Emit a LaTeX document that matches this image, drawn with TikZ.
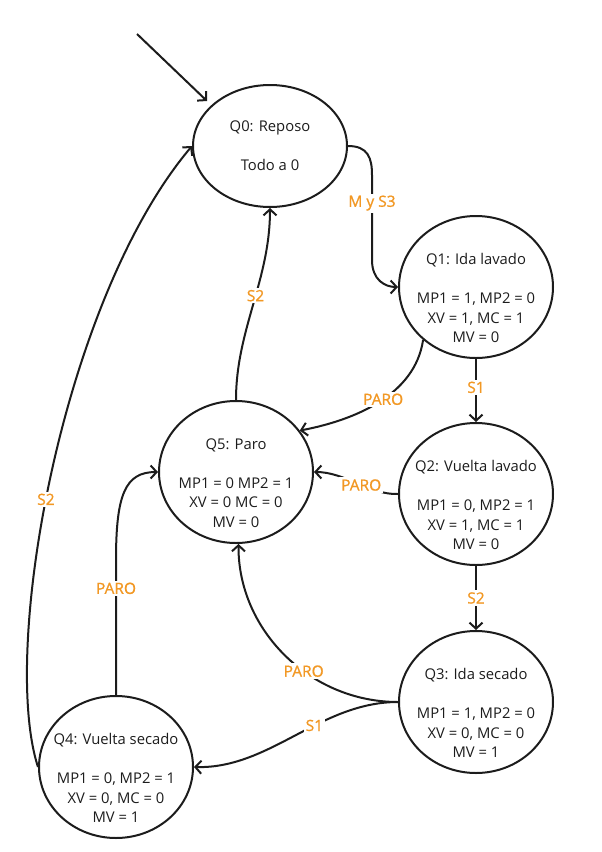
\documentclass[tikz,border=0pt]{standalone}
\usepackage{fontspec}
\setmainfont{Open Sans}
\newfontfamily\labelfont[FakeBold=1]{Open Sans}
\usetikzlibrary{arrows.meta,shapes.geometric}
\definecolor{lblorange}{RGB}{242,152,36}
\definecolor{ink}{RGB}{28,28,28}

\begin{document}
\begin{tikzpicture}[x=1pt,y=-1pt,
  state/.style={draw=ink, line width=2pt, ellipse, minimum width=154pt,
                minimum height=142pt, inner sep=0pt},
  txt/.style={align=center, font=\fontsize{14.8}{19.7}\selectfont, text=ink, inner sep=0pt},
  trans/.style={draw=ink, line width=2pt, -{Straight Barb[length=6pt,width=13pt]}},
  lbl/.style={fill=white, text=lblorange, font=\labelfont\fontsize{15.5}{17}\selectfont, inner sep=2pt},
]
\useasboundingbox (0,0) rectangle (602,852);

% states
\node[state, minimum height=122pt] (q0) at (270,146) {};
\node[state] (q1) at (476,287) {};
\node[state] (q2) at (476,494) {};
\node[state] (q3) at (476,702) {};
\node[state] (q4) at (116,767) {};
\node[state] (q5) at (236,472) {};

% state contents
\node[txt] (q0txt) at (q0.center) {Q0: Reposo\\[19.5pt]Todo a 0};
\node[txt] (q1txt) at ([yshift=-11pt]q1.center)
  {Q1: Ida lavado\\[19.5pt]MP1 = 1, MP2 = 0\\XV = 1, MC = 1\\MV = 0};
\node[txt] (q2txt) at ([yshift=-11pt]q2.center)
  {Q2: Vuelta lavado\\[19.5pt]MP1 = 0, MP2 = 1\\XV = 1, MC = 1\\MV = 0};
\node[txt] (q3txt) at ([yshift=-11pt]q3.center)
  {Q3: Ida secado\\[19.5pt]MP1 = 1, MP2 = 0\\XV = 0, MC = 0\\MV = 1};
\node[txt] (q4txt) at ([yshift=-11pt]q4.center)
  {Q4: Vuelta secado\\[19.5pt]MP1 = 0, MP2 = 1\\XV = 0, MC = 0\\MV = 1};
\node[txt] (q5txt) at ([yshift=-11pt]q5.center)
  {Q5: Paro\\[19.5pt]MP1 = 0 MP2 = 1\\XV = 0 MC = 0\\MV = 0};

% initial arrow
\coordinate (init) at (137,34);
\coordinate (entry) at (207,101);
\draw[trans] (init) -- (entry);

% transitions
\draw[trans] (q0.east) .. controls (368,146) and (372,158) .. (372,175)
  -- node[lbl,pos=0.33]{M y S3} (372,260)
  .. controls (372,280) and (385,287) .. (q1.west);
\draw[trans] (q1.south) -- node[lbl,pos=0.45]{S1} (q2.north);
\draw[trans] (q2.south) -- node[lbl,pos=0.5]{S2} (q3.north);
\draw[trans] (q3.west) .. controls (320,702) and (270,769) .. node[lbl,pos=0.4]{S1} (q4.east);
\draw[trans] (q3.west) .. controls (310,702) and (238,630) .. node[lbl,pos=0.4]{PARO} (q5.272);
\draw[trans] (q1.225) .. controls (415,395) and (355,420) .. node[lbl,pos=0.47]{PARO} (q5.33);
\draw[trans] (q2.west) .. controls (370,495) and (345,472) .. node[lbl,pos=0.45]{PARO} (q5.east);
\draw[trans] (q5.north) .. controls (236,330) and (270,280) .. node[lbl,pos=0.55]{S2} (q0.south);
\draw[trans] (q4.north) -- node[lbl,pos=0.79]{PARO} (116,560)
  .. controls (116,495) and (125,472) .. (q5.west);
\draw[trans] (q4.west) .. controls (0,650) and (62,300) .. node[lbl,pos=0.46]{S2} (q0.west);
\end{tikzpicture}
\end{document}
